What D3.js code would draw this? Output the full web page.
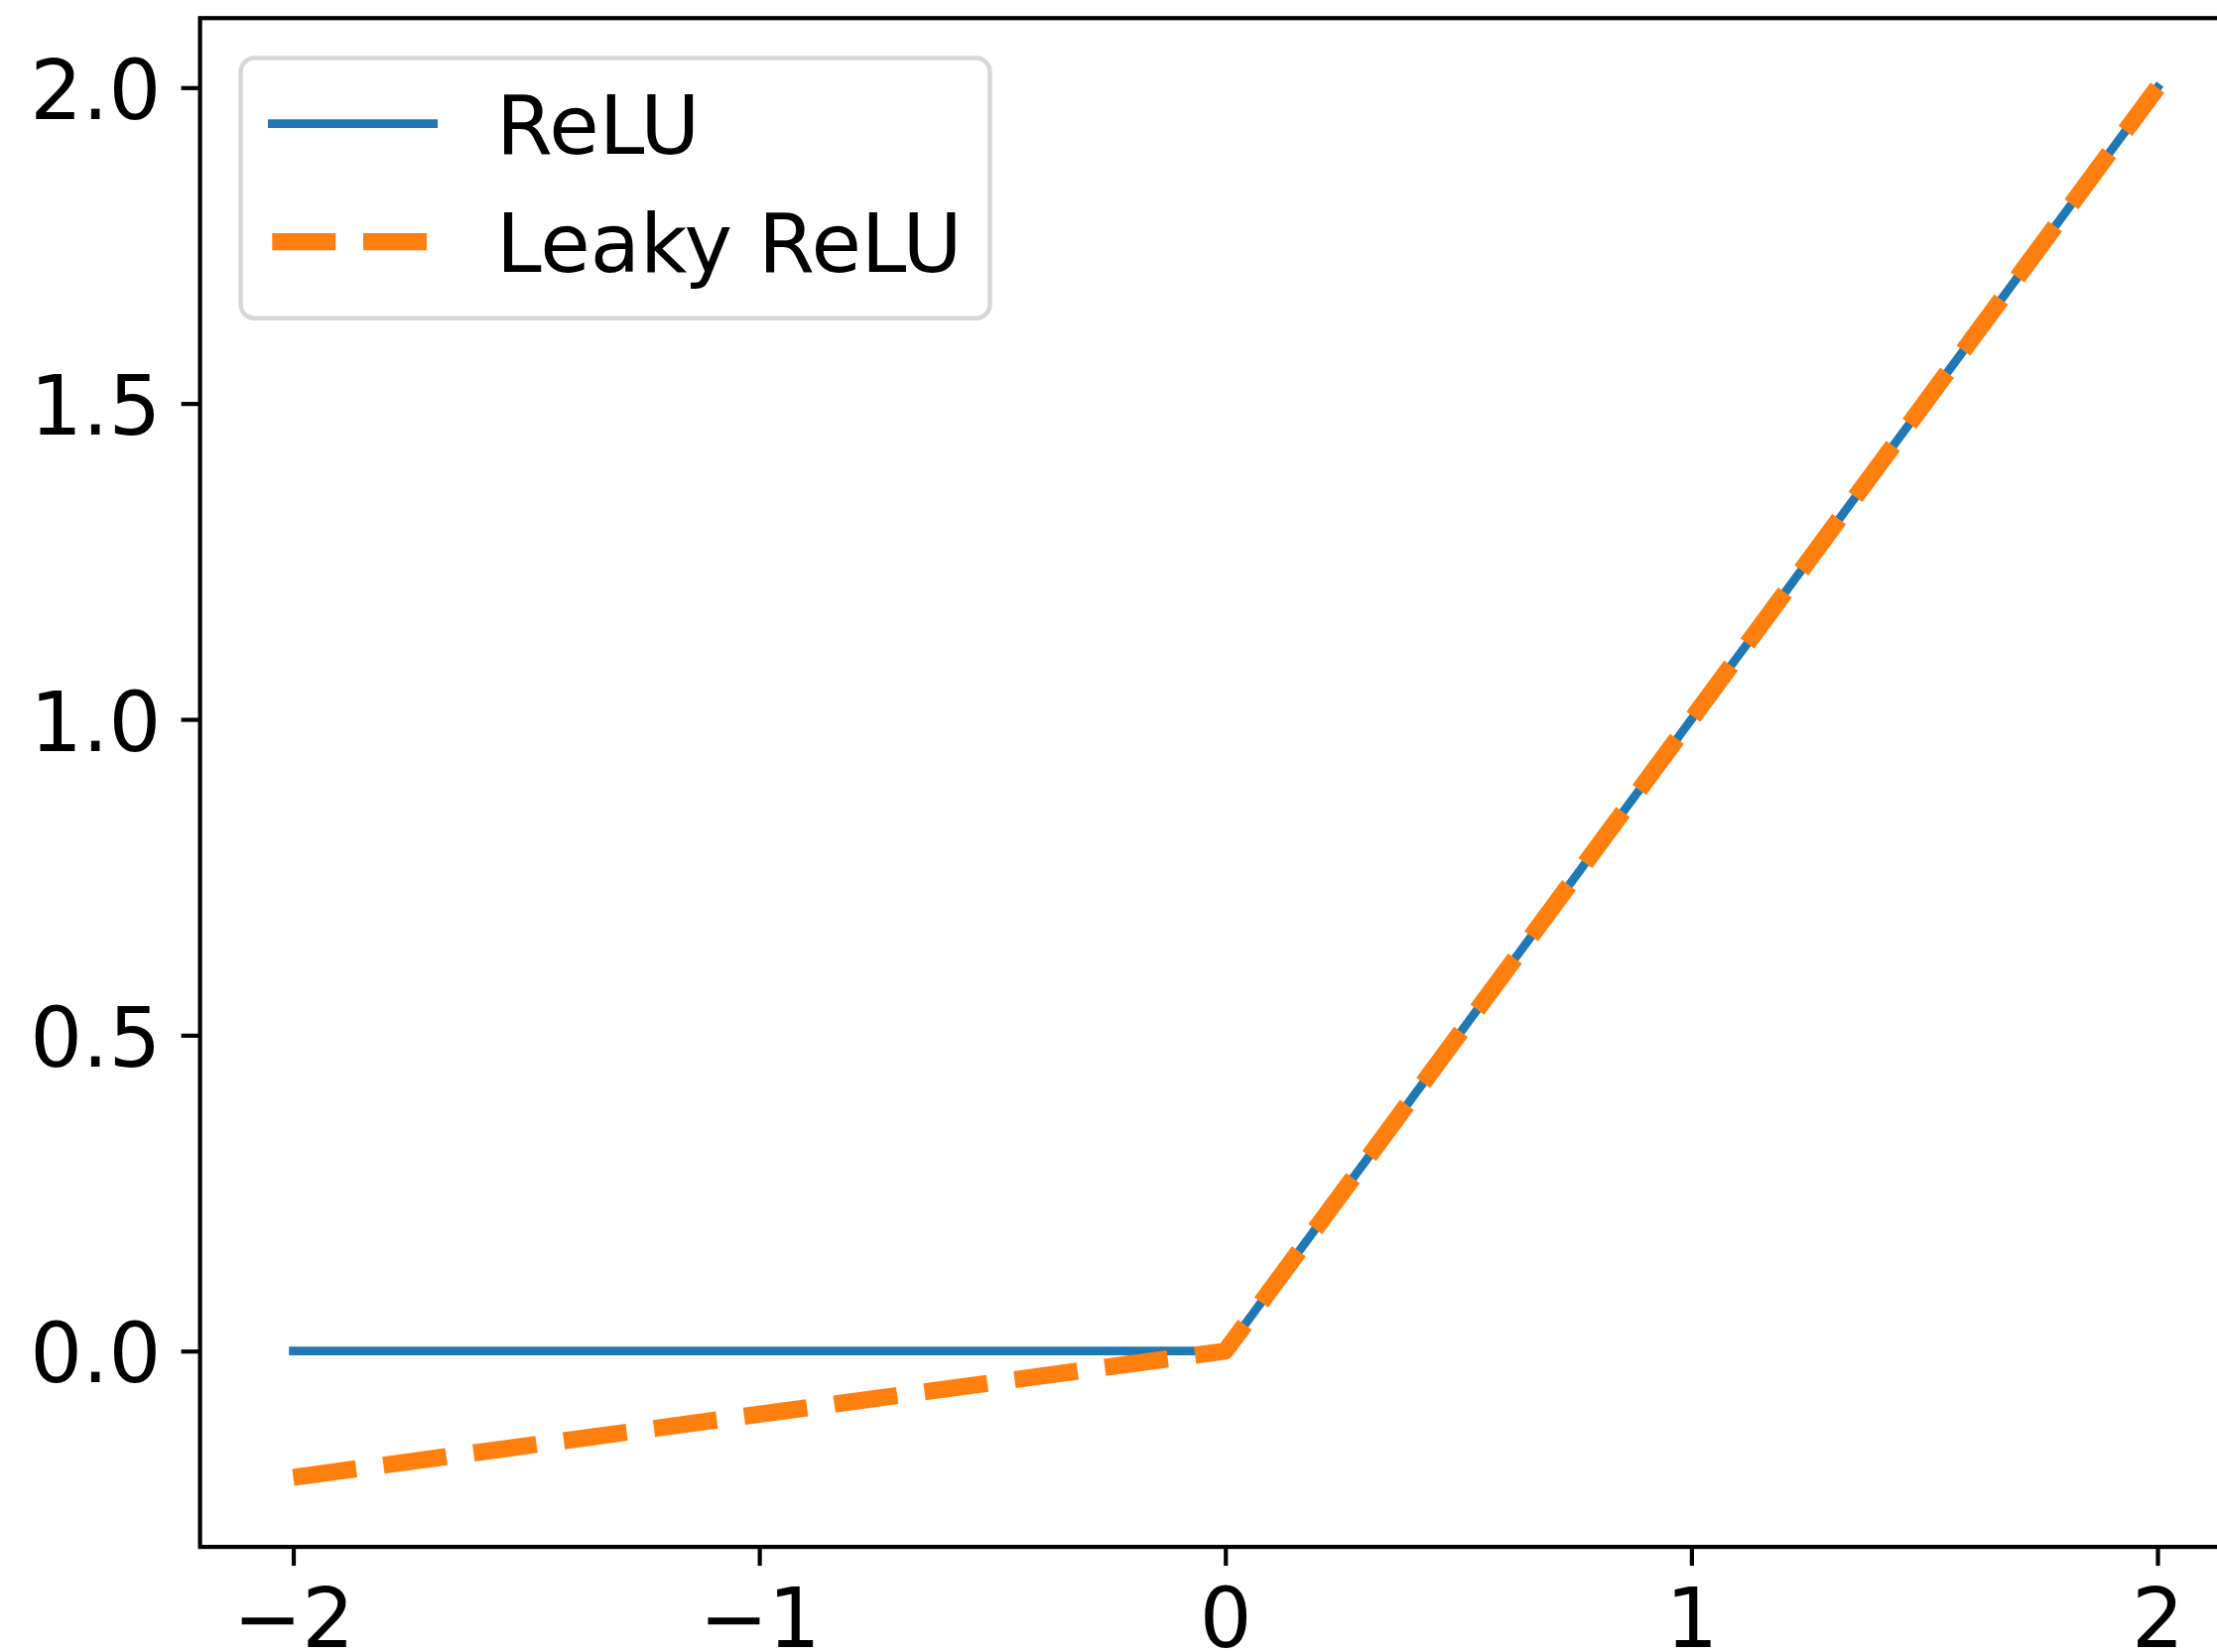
<!DOCTYPE html>
<html>
<head>
<meta charset="utf-8">
<script src="https://cdn.jsdelivr.net/npm/d3@7"></script>
<style>
  html, body { margin: 0; padding: 0; background: #fff; }
  svg { display: block; }
  text { font-family: "DejaVu Sans", sans-serif; fill: #000; }
</style>
</head>
<body>
<svg id="chart" width="2234" height="1665"></svg>
<script>
// Piecewise-linear activation curves, sampled at their breakpoints
const xValues = [-2, 0, 2];
const reluValues = [0, 0, 2];
const leakyReluValues = [-0.2, 0, 2];
const seriesNames = ["ReLU", "Leaky ReLU"];
const xTickValues = [-2, -1, 0, 1, 2];
const yTickValues = [0, 0.5, 1, 1.5, 2];
const xLimits = [-2.2, 2.2];
const yLimits = [-0.31, 2.11];

(function () {
  const svg = d3.select("#chart");
  const TICK_FONT = 83;
  const LEGEND_FONT = 82;
  const AXIS_LW = 4.2;

  const x = d3.scaleLinear().domain([-2, 2]).range([295.5, 2174]);
  const y = d3.scaleLinear().domain([0, 2]).range([1361.7, 88.3]);

  const axLeft = x(xLimits[0]), axRight = x(xLimits[1]);
  const axTop = y(yLimits[1]), axBottom = y(yLimits[0]);

  svg.append("rect").attr("width", 2234).attr("height", 1665).attr("fill", "#fff");

  // Curves
  const line = d3.line().x(d => x(d[0])).y(d => y(d[1]));
  const reluPts = xValues.map((v, i) => [v, reluValues[i]]);
  const leakyPts = xValues.map((v, i) => [v, leakyReluValues[i]]);

  const plot = svg.append("g");
  plot.append("path")
    .attr("d", line(reluPts))
    .attr("fill", "none")
    .attr("stroke", "#1f77b4")
    .attr("stroke-width", 8.7)
    .attr("stroke-linecap", "square")
    .attr("stroke-linejoin", "round");

  plot.append("path")
    .attr("d", line(leakyPts))
    .attr("fill", "none")
    .attr("stroke", "#ff7f0e")
    .attr("stroke-width", 17.3)
    .attr("stroke-dasharray", "64,27.7")
    .attr("stroke-linecap", "butt")
    .attr("stroke-linejoin", "round");

  // Axes
  const xAxis = svg.append("g")
    .attr("transform", `translate(0,${axBottom})`)
    .call(d3.axisBottom(x).tickValues(xTickValues).tickFormat(d3.format("d")).tickSize(19).tickSizeOuter(0));
  xAxis.select(".domain").remove();
  xAxis.selectAll(".tick line").attr("stroke", "#000").attr("stroke-width", AXIS_LW);
  xAxis.selectAll(".tick text")
    .attr("y", 101).attr("dy", 0)
    .attr("font-size", TICK_FONT).attr("font-family", "DejaVu Sans");

  const yAxis = svg.append("g")
    .attr("transform", `translate(${axLeft},0)`)
    .call(d3.axisLeft(y).tickValues(yTickValues).tickFormat(d3.format(".1f")).tickSize(19).tickSizeOuter(0));
  yAxis.select(".domain").remove();
  yAxis.selectAll(".tick line").attr("stroke", "#000").attr("stroke-width", AXIS_LW);
  yAxis.selectAll(".tick text")
    .attr("x", 162.2 - axLeft).attr("dy", 31)
    .attr("font-size", TICK_FONT).attr("font-family", "DejaVu Sans");

  // Spines
  svg.append("rect")
    .attr("x", axLeft).attr("y", axTop)
    .attr("width", axRight - axLeft).attr("height", axBottom - axTop)
    .attr("fill", "none")
    .attr("stroke", "#000")
    .attr("stroke-width", AXIS_LW)
    .attr("stroke-linejoin", "miter");

  // Legend
  const legend = svg.append("g");
  legend.append("rect")
    .attr("x", 242.5).attr("y", 58.5)
    .attr("width", 755).attr("height", 262.3)
    .attr("rx", 14).attr("ry", 14)
    .attr("fill", "#fff").attr("fill-opacity", 0.8)
    .attr("stroke", "#d6d6d6")
    .attr("stroke-width", 4.5);

  const handleX0 = 274.3, handleX1 = 436.7;
  const rows = [
    { name: seriesNames[0], cy: 124.7, color: "#1f77b4", width: 8.7, dash: null, cap: "square" },
    { name: seriesNames[1], cy: 243.7, color: "#ff7f0e", width: 17.3, dash: "64,27.7", cap: "butt" }
  ];
  rows.forEach(r => {
    legend.append("line")
      .attr("x1", handleX0).attr("x2", handleX1)
      .attr("y1", r.cy).attr("y2", r.cy)
      .attr("stroke", r.color)
      .attr("stroke-width", r.width)
      .attr("stroke-linecap", r.cap)
      .attr("stroke-dasharray", r.dash);
    legend.append("text")
      .attr("x", 500)
      .attr("y", r.cy + 30)
      .attr("font-size", LEGEND_FONT)
      .text(r.name);
  });
})();
</script>
</body>
</html>
